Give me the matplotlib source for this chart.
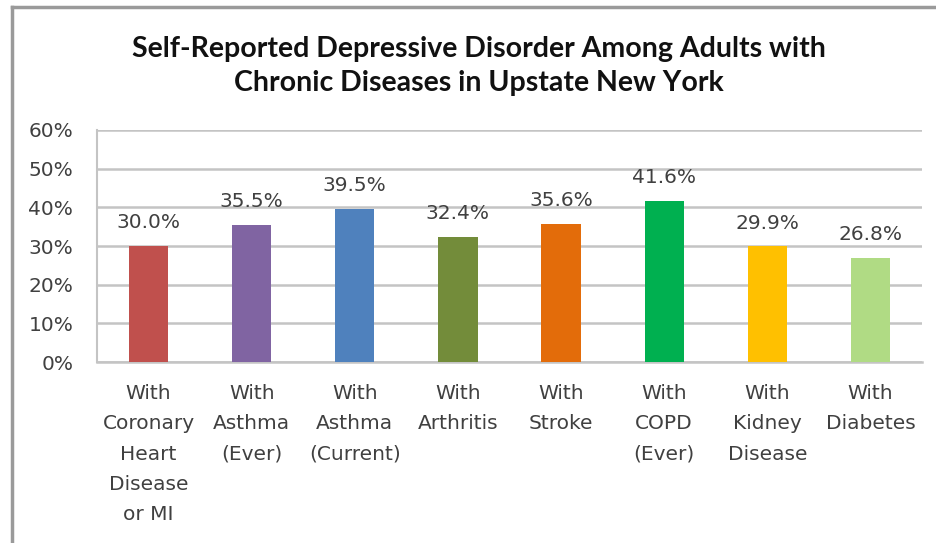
import matplotlib
matplotlib.use("Agg")
import matplotlib.pyplot as plt
from matplotlib.lines import Line2D
from matplotlib.ticker import FuncFormatter

# data
categories = [
    "With\nCoronary\nHeart\nDisease\nor MI",
    "With\nAsthma\n(Ever)",
    "With\nAsthma\n(Current)",
    "With\nArthritis",
    "With\nStroke",
    "With\nCOPD\n(Ever)",
    "With\nKidney\nDisease",
    "With\nDiabetes",
]
values = [30.0, 35.5, 39.5, 32.4, 35.6, 41.6, 29.9, 26.8]
bar_colors = ["#C0504D", "#8064A2", "#4F81BD", "#738C3A",
              "#E36C0A", "#00B050", "#FFC000", "#B0DB84"]
y_ticks = [0, 10, 20, 30, 40, 50, 60]

title = ("Self-Reported Depressive Disorder Among Adults with\n"
         "Chronic Diseases in Upstate New York")

text_color = "#404040"
grid_color = "#C4C4C4"

fig = plt.figure(figsize=(9.37, 5.43), dpi=100)
fig.patch.set_facecolor("white")
ax = fig.add_axes([0.1035, 0.3333, 0.8805, 0.4273])

x = list(range(len(categories)))
ax.bar(x, values, width=0.38, color=bar_colors, zorder=3)

# value labels above bars
for xi, v in zip(x, values):
    ax.annotate(f"{v:.1f}%", (xi, v), xytext=(0, 10), textcoords="offset points",
                ha="center", va="bottom", fontsize=14.5, color=text_color,
                family="DejaVu Sans")

ax.set_xlim(-0.5, len(categories) - 0.5)
ax.set_ylim(0, 60)
ax.set_yticks(y_ticks)
ax.yaxis.set_major_formatter(FuncFormatter(lambda v, _: f"{v:.0f}%"))
ax.set_xticks(x)
ax.set_xticklabels(categories, linespacing=1.75)

ax.grid(axis="y", color=grid_color, linewidth=1.8, zorder=0)
ax.tick_params(axis="both", length=0, labelsize=14.5, labelcolor=text_color)
ax.tick_params(axis="x", pad=16)
ax.tick_params(axis="y", pad=17)
for lab in ax.get_xticklabels() + ax.get_yticklabels():
    lab.set_family("DejaVu Sans")

for side in ["top", "right"]:
    ax.spines[side].set_visible(False)
ax.spines["left"].set_color(grid_color)
ax.spines["left"].set_linewidth(1.5)
ax.spines["bottom"].set_color(grid_color)
ax.spines["bottom"].set_linewidth(1.8)

fig.text(0.511, 0.879, title, ha="center", va="center", fontsize=20.5,
         fontweight="bold", family="Lato", color="#111111", linespacing=1.38)

# outer chart border (top and left edges visible in the reference)
fig.add_artist(Line2D([12 / 937, 12 / 937], [0, 1 - 7 / 543], transform=fig.transFigure,
                      color="#9A9A9A", linewidth=2.5))
fig.add_artist(Line2D([12 / 937, 1], [1 - 7 / 543, 1 - 7 / 543], transform=fig.transFigure,
                      color="#9A9A9A", linewidth=2.5))

fig.savefig("out.png", dpi=100)
